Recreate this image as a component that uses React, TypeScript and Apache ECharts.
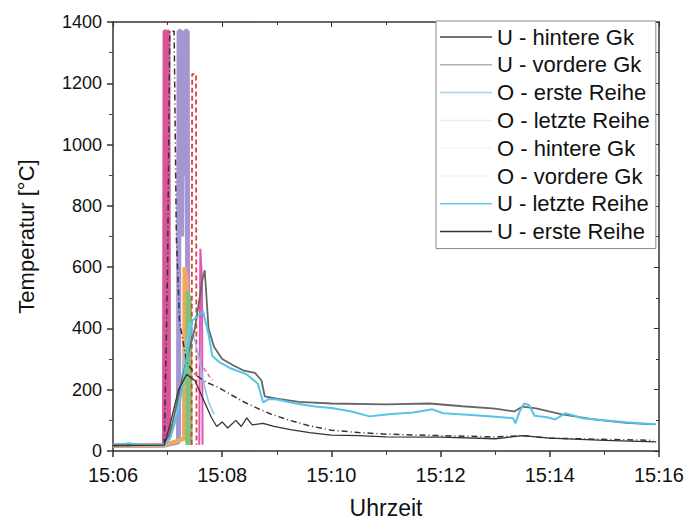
import React, { useEffect, useRef } from "react";
import * as echarts from "echarts";

// time in minutes after 15:00, temperature in °C
const xTicks = ["15:06", "15:08", "15:10", "15:12", "15:14", "15:16"];

const uHintereGk: [number, number][] = [
  [6, 18], [6.3, 24], [6.45, 20], [6.94, 19], [7.05, 60], [7.2, 180], [7.35, 300], [7.5, 400], [7.64, 560], [7.68, 590],
  [7.75, 400], [7.85, 340], [8.0, 300], [8.2, 280], [8.4, 262], [8.6, 255], [8.72, 230], [8.78, 178],
  [9.0, 171], [9.4, 160], [10.0, 155], [11.0, 152], [11.8, 155], [12.4, 146], [13.0, 138], [13.35, 129],
  [13.5, 145], [13.75, 139], [14.2, 120], [14.8, 103], [15.4, 92], [15.9, 87],
];
const uVordereGk: [number, number][] = [
  [6, 18], [6.94, 19], [7.0, 600], [7.04, 1370], [7.12, 1370], [7.16, 700], [7.22, 420], [7.35, 290],
  [7.5, 250], [7.7, 225], [7.9, 210], [8.1, 190], [8.4, 160], [8.7, 135], [8.9, 120], [9.2, 102],
  [9.6, 82], [10.0, 68], [10.5, 60], [11.0, 55], [12.0, 50], [13.0, 46], [13.5, 50], [14.0, 42],
  [15.0, 38], [15.9, 35],
];
const oErsteReihe: [number, number][] = [
  [6, 18], [6.94, 19], [7.05, 40], [7.2, 150], [7.32, 330], [7.42, 420], [7.5, 360], [7.58, 300],
  [7.65, 230], [7.75, 160], [7.85, 120],
];
const oLetzteReihe: [number, number][] = [
  [6, 18], [6.93, 19], [6.94, 1370], [6.98, 1370], [6.99, 30], [7.0, 1370], [7.02, 1370], [7.03, 40],
];
const oHintereGk: [number, number][] = [
  [6, 18], [6.94, 19], [7.2, 30], [7.21, 1370], [7.24, 1370], [7.26, 700], [7.28, 1370], [7.3, 900],
  [7.32, 1370], [7.36, 1370], [7.37, 30],
];
const oVordereGk: [number, number][] = [
  [6, 18], [6.94, 19], [7.3, 40], [7.31, 600], [7.35, 560], [7.36, 30],
];
const uLetzteReihe: [number, number][] = [
  [6, 18], [6.3, 25], [6.45, 20], [6.94, 19], [7.05, 45], [7.2, 130], [7.35, 300], [7.45, 425],
  [7.55, 440], [7.65, 455], [7.75, 380], [7.82, 310], [7.95, 290], [8.15, 270], [8.45, 250],
  [8.65, 220], [8.75, 158], [8.85, 170], [9.0, 168], [9.35, 155], [9.7, 145], [10.0, 140], [10.35, 130],
  [10.7, 113], [11.05, 120], [11.5, 126], [11.85, 136], [12.05, 123], [12.5, 118], [13.0, 112],
  [13.33, 107], [13.37, 90], [13.45, 130], [13.53, 155], [13.62, 150], [13.72, 115], [13.95, 110],
  [14.1, 103], [14.28, 123], [14.45, 115], [14.6, 107], [15.0, 100], [15.4, 94], [15.95, 87],
];
const uErsteReihe: [number, number][] = [
  [6, 18], [6.94, 19], [7.05, 90], [7.2, 200], [7.35, 250], [7.5, 230], [7.6, 190], [7.7, 150],
  [7.8, 110], [7.9, 80], [8.0, 95], [8.1, 75], [8.25, 100], [8.35, 80], [8.45, 108], [8.55, 85],
  [8.75, 90], [8.95, 80], [9.25, 70], [9.6, 60], [10.0, 52], [10.5, 50], [11.0, 46], [12.0, 45],
  [13.0, 40], [13.5, 50], [14.0, 42], [15.0, 35], [15.95, 30],
];
// unlabelled traces visible in the spike
const greenSpike: [number, number][] = [[7.36, 20], [7.37, 520], [7.41, 480], [7.42, 20]];
const redSpike: [number, number][] = [[7.44, 20], [7.45, 1230], [7.52, 1230], [7.53, 20]];
const magentaSpike: [number, number][] = [[7.58, 20], [7.6, 660], [7.63, 560], [7.64, 20]];
const pinkTrace: [number, number][] = [[7.6, 290], [7.7, 260], [7.82, 230]];

const seriesNames = [
  "U - hintere Gk",
  "U - vordere Gk",
  "O - erste Reihe",
  "O - letzte Reihe",
  "O - hintere Gk",
  "O - vordere Gk",
  "U - letzte Reihe",
  "U - erste Reihe",
];
const legendColors = ["#444", "#b8b0b0", "#a8d6ee", "#ececec", "#f3f3f3", "#f5f5f5", "#5cc8ea", "#333"];

export default function App() {
  const ref = useRef<HTMLDivElement>(null);
  useEffect(() => {
    if (!ref.current) return;
    const chart = echarts.init(ref.current, null, { renderer: "svg" });
    const font = "Liberation Sans, Arial, sans-serif";
    const line = (name: string | undefined, data: [number, number][], color: string, width: number, type: any = "solid", z = 2) => ({
      type: "line",
      name,
      data,
      showSymbol: false,
      symbol: "none",
      lineStyle: { color, width, type, cap: "butt" },
      itemStyle: { color },
      z,
    });
    const fmt = (v: number) => "15:" + String(Math.round(v)).padStart(2, "0");
    chart.setOption({
      animation: false,
      grid: { left: 113, right: 28, top: 22, bottom: 64 },
      legend: {
        orient: "vertical",
        left: 436,
        top: 21,
        width: 226,
        padding: [5, 6, 6, 4],
        borderColor: "#888",
        borderWidth: 1,
        backgroundColor: "#fff",
        icon: "rect",
        itemWidth: 52,
        itemHeight: 1.5,
        itemGap: 5.8,
        itemStyle: { borderWidth: 0 },
        textStyle: { fontSize: 22, fontFamily: font, color: "#111", lineHeight: 22 },
        data: seriesNames.map((n, i) => ({ name: n, itemStyle: { color: legendColors[i] } })),
      },
      xAxis: [
        {
          type: "value",
          min: 6,
          max: 16,
          interval: 2,
          name: "Uhrzeit",
          nameLocation: "middle",
          nameGap: 45,
          nameTextStyle: { fontSize: 23, fontFamily: font, color: "#111" },
          axisLine: { onZero: false, lineStyle: { color: "#333", width: 1.5 } },
          axisTick: { inside: false, length: 6, lineStyle: { color: "#333", width: 1.5 } },
          minorTick: { show: true, splitNumber: 2, length: 4, lineStyle: { color: "#444" } },
          axisLabel: { formatter: fmt, fontSize: 20, fontFamily: font, color: "#111", margin: 14 },
          splitLine: { show: false },
        },
        {
          type: "value",
          position: "top",
          min: 6,
          max: 16,
          interval: 2,
          axisLine: { onZero: false, lineStyle: { color: "#333", width: 1.5 } },
          axisTick: { inside: true, length: 5, lineStyle: { color: "#333" } },
          minorTick: { show: true, splitNumber: 2, length: 3 },
          axisLabel: { show: false },
          splitLine: { show: false },
        },
      ],
      yAxis: [
        {
          type: "value",
          min: 0,
          max: 1400,
          interval: 200,
          name: "Temperatur [°C]",
          nameLocation: "middle",
          nameGap: 76,
          nameTextStyle: { fontSize: 22, fontFamily: font, color: "#111" },
          axisLine: { show: true, onZero: false, lineStyle: { color: "#333", width: 1.5 } },
          axisTick: { show: true, inside: false, length: 6, lineStyle: { color: "#333", width: 1.5 } },
          minorTick: { show: true, splitNumber: 2, length: 4, lineStyle: { color: "#444" } },
          axisLabel: { formatter: (v: number) => String(v), fontSize: 18, fontFamily: font, color: "#111", margin: 11 },
          splitLine: { show: false },
        },
        {
          type: "value",
          position: "right",
          min: 0,
          max: 1400,
          interval: 200,
          axisLine: { show: true, onZero: false, lineStyle: { color: "#333", width: 1.5 } },
          axisTick: { show: true, inside: true, length: 5, lineStyle: { color: "#333" } },
          minorTick: { show: true, splitNumber: 2, length: 3 },
          axisLabel: { show: false },
          splitLine: { show: false },
        },
      ],
      series: [
        line(seriesNames[3], oLetzteReihe, "#d9559a", 3.5),
        line(seriesNames[4], oHintereGk, "#a596d2", 5),
        line(seriesNames[5], oVordereGk, "#f2a75a", 4),
        line(undefined, greenSpike, "#7fc27a", 4),
        line(undefined, redSpike, "#e0403c", 1.8, [5, 3]),
        line(undefined, magentaSpike, "#e055b5", 2),
        line(undefined, pinkTrace, "#e06a9a", 1.5, [4, 3]),
        line(seriesNames[2], oErsteReihe, "#7fc8ea", 1.5),
        line(seriesNames[1], uVordereGk, "#333", 1.5, [6, 3, 1, 3], 3),
        line(seriesNames[0], uHintereGk, "#666", 1.8, "solid", 3),
        line(seriesNames[6], uLetzteReihe, "#55c4e8", 2, "solid", 3),
        line(seriesNames[7], uErsteReihe, "#333", 1.3, "solid", 3),
      ],
    });
    return () => chart.dispose();
  }, []);
  return <div ref={ref} style={{ position: "fixed", left: 0, top: 0, width: 687, height: 524, background: "#fff" }} />;
}
